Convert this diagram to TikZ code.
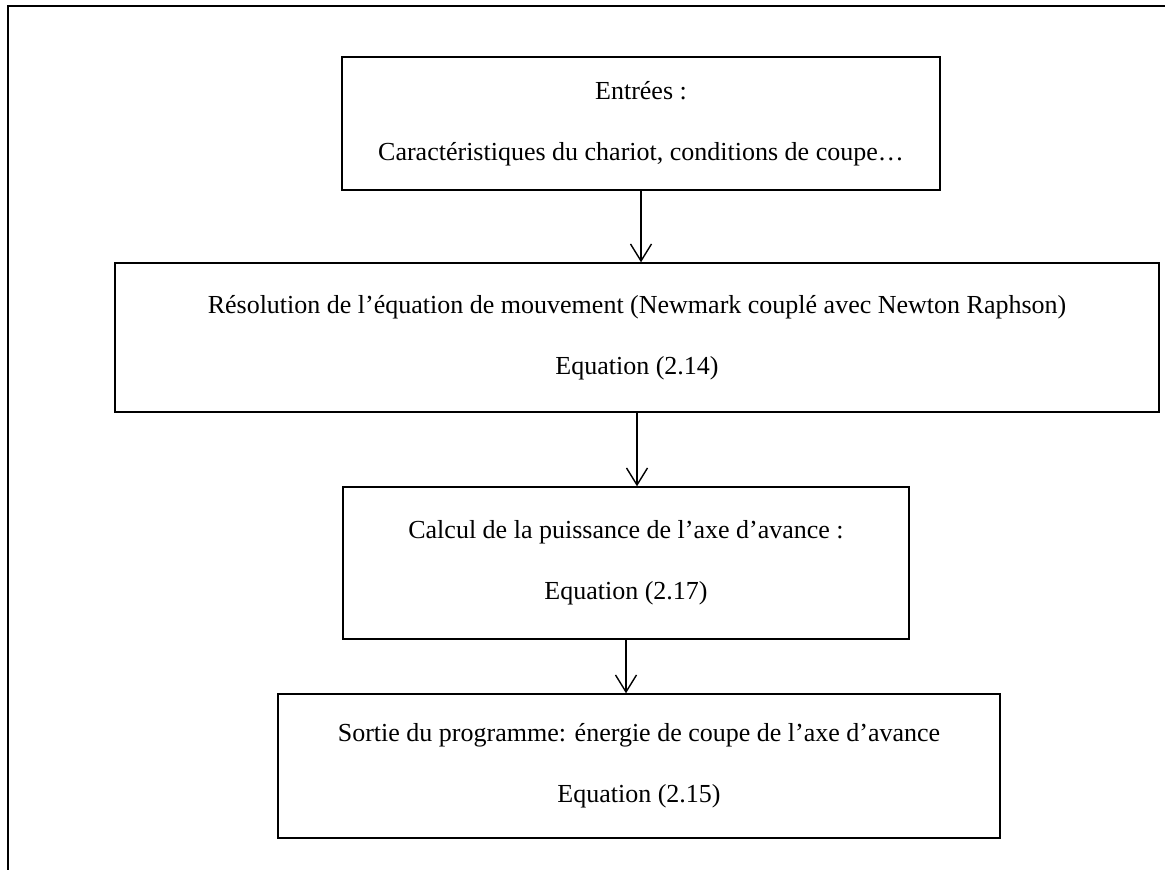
\documentclass[tikz,border=0pt]{standalone}
\usepackage{fontspec}
\setmainfont{Liberation Serif}
\usetikzlibrary{arrows.meta}
\begin{document}
\begin{tikzpicture}[x=1pt,y=-1pt,
  flowbox/.style={draw, line width=1.4pt, rectangle, inner sep=0pt,
    align=center, font=\fontsize{26}{30}\selectfont},
  flowarrow/.style={draw, line width=1.4pt,
    -{Straight Barb[length=17pt,width=21pt,line width=1.4pt]}}]
  \useasboundingbox (0,0) rectangle (1165,870);
  % open frame along the top and left edges
  \draw[line width=2.2pt] (8,870) -- (8,6) -- (1165,6);

  \node[flowbox, minimum width=598pt, minimum height=133pt] (inputs) at (641,123.5)
    {Entrées :\\[31pt]Caractéristiques du chariot, conditions de coupe…};
  \node[flowbox, minimum width=1044pt, minimum height=149pt] (solve) at (637,337.5)
    {Résolution de l’équation de mouvement (Newmark couplé avec Newton Raphson)\\[31pt]Equation (2.14)};
  \node[flowbox, minimum width=566pt, minimum height=152pt] (power) at (626,563)
    {Calcul de la puissance de l’axe d’avance :\\[31pt]Equation (2.17)};
  \node[flowbox, minimum width=722pt, minimum height=144pt] (output) at (639,766)
    {Sortie du programme: énergie de coupe de l’axe d’avance\\[31pt]Equation (2.15)};

  % vertical connectors from each box down to the next one
  \draw[flowarrow] (inputs.south) -- (inputs.south |- solve.north);
  \draw[flowarrow] (solve.south) -- (solve.south |- power.north);
  \draw[flowarrow] (power.south) -- (power.south |- output.north);
\end{tikzpicture}
\end{document}
